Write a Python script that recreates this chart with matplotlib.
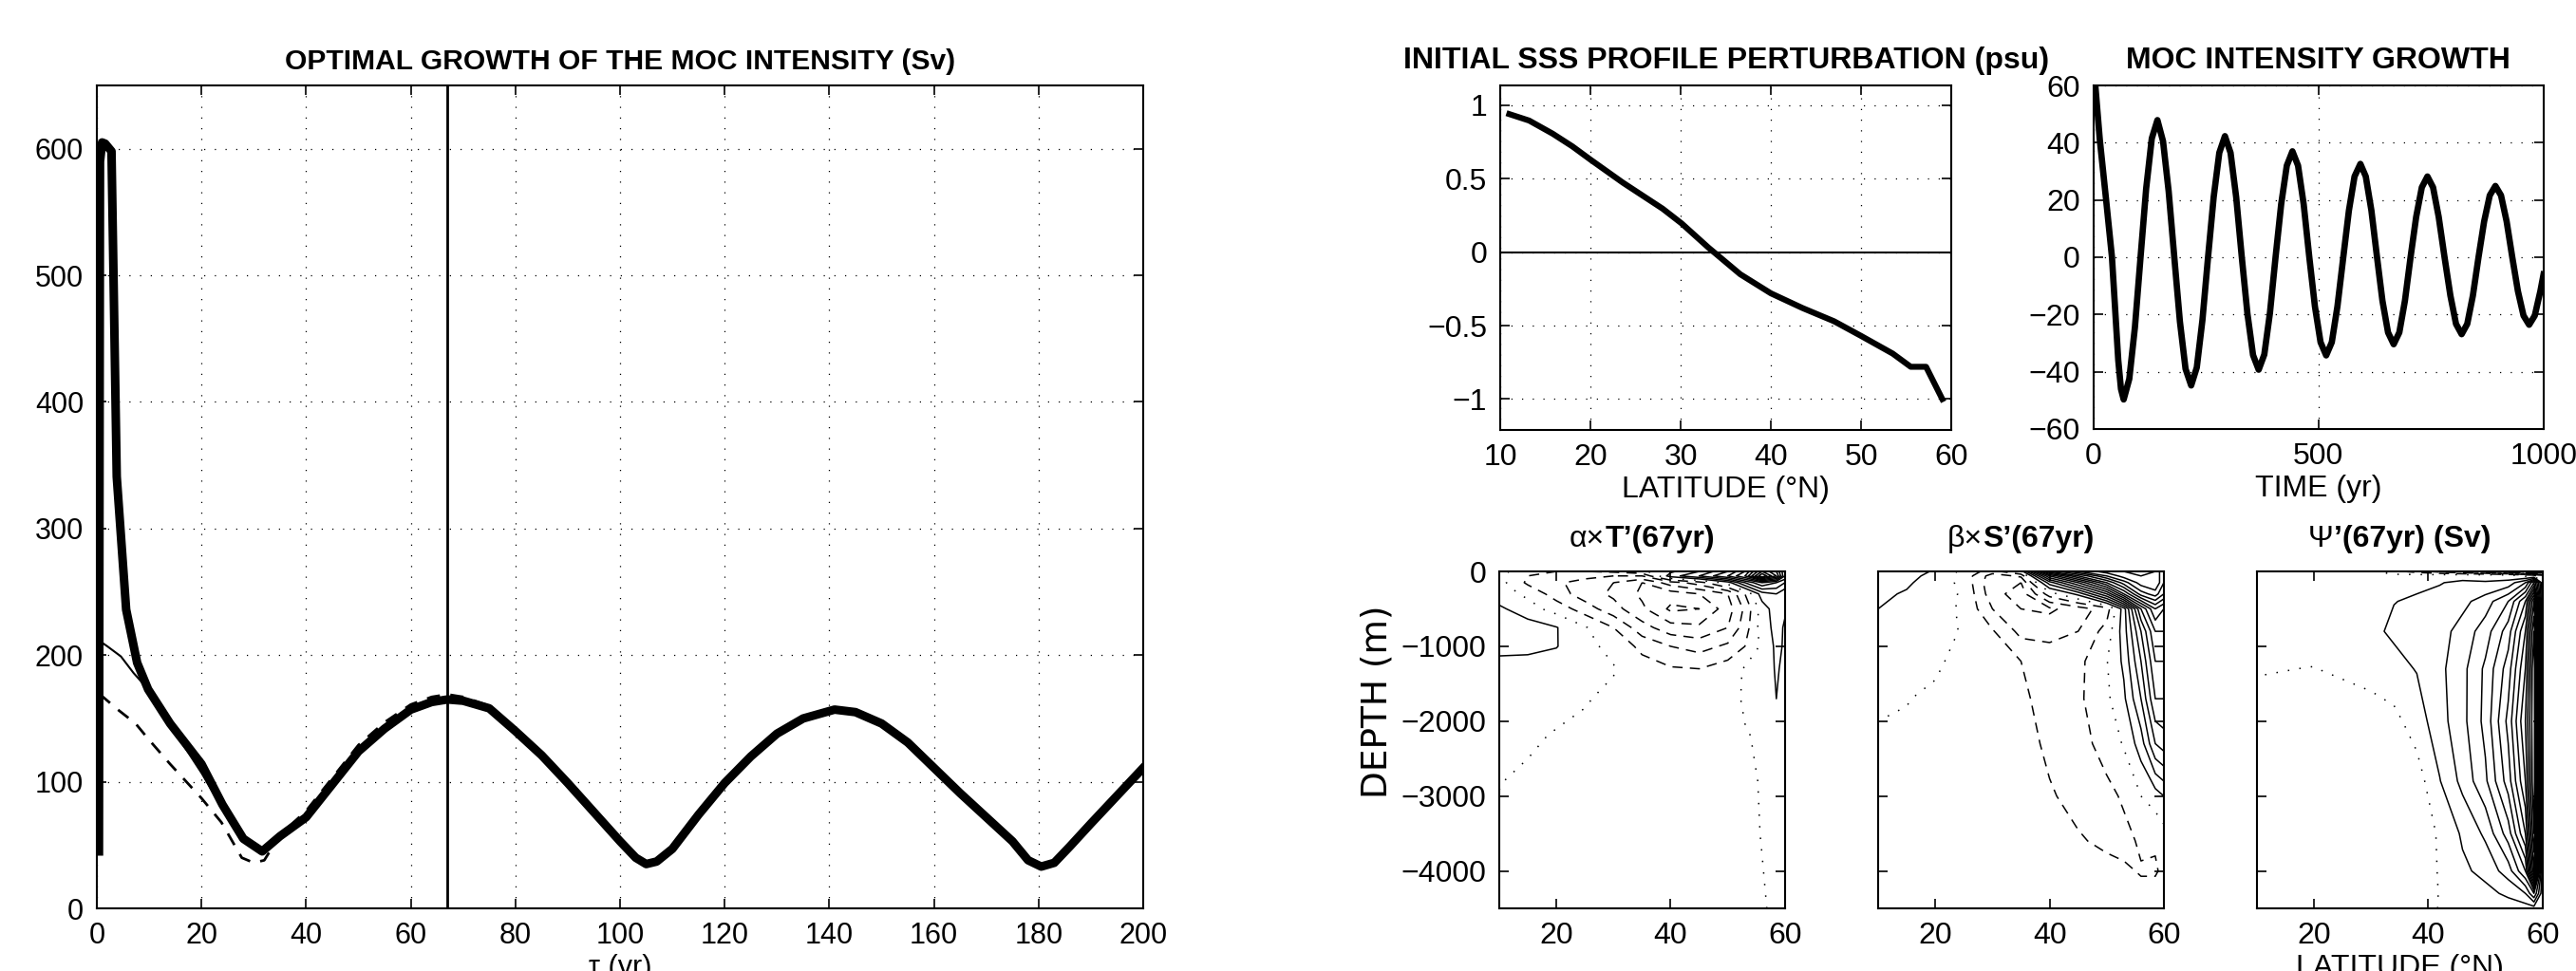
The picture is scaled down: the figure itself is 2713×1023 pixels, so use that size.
import numpy as np
import matplotlib.pyplot as plt
from matplotlib.offsetbox import TextArea, HPacker, AnchoredOffsetbox

plt.rcParams['font.family'] = ['Liberation Sans', 'DejaVu Sans']

# ---------------- donnees : croissance optimale (Sv) ----------------
tau_thick = [0.4, 0.6, 1.0, 1.6, 2.2, 2.8, 3.8, 5.6, 7.7, 9.8, 14, 20, 24, 28, 31.6, 35, 40, 45,
             50, 55, 60, 64, 67, 70, 75, 80, 85, 90, 95, 100, 103, 105, 107, 110, 115, 120, 125,
             130, 135, 141, 145, 150, 155, 160, 165, 170, 175, 178, 180.5, 183, 186, 190, 195, 200]
moc_thick = [45, 590, 605, 604, 601, 598, 341, 236, 194, 173, 146, 114, 82, 55, 45, 57, 72, 98,
             124, 142, 157, 163, 165, 164, 158, 140, 121, 99, 76, 53, 40, 35, 37, 47, 74, 99, 120,
             138, 150, 157, 155, 146, 131, 111, 91, 72, 53, 38, 33, 36, 49, 67, 89, 111]
tau_thin = [0.6, 2, 4.6, 7, 9.8, 14, 20, 24, 28, 31.6]
moc_thin = [211, 207, 199, 186, 173, 145, 107, 79, 55, 47]
tau_dash = [0.6, 4, 7.4, 10, 14, 20, 23.8, 27.7, 30, 32, 35, 40, 45, 50, 55, 60, 64, 67, 70, 75]
moc_dash = [169, 157, 146, 133, 114, 87, 68, 40, 36, 38, 58, 77, 103, 129, 147, 161, 167, 169, 167, 160]
tau_opt = 67

# ---------------- profil initial de SSS (psu) ----------------
lat_sss = [11, 12, 13.2, 15.8, 18, 20, 23.6, 28, 30.1, 33.1, 34, 36.6, 40, 43.5, 47, 50, 53.5,
           55.5, 57.2, 59]
sss = [0.94, 0.92, 0.896, 0.807, 0.72, 0.63, 0.473, 0.296, 0.196, 0.03, -0.016, -0.15, -0.28,
       -0.38, -0.47, -0.57, -0.69, -0.78, -0.78, -1.0]

# ---------------- croissance de l'intensite de la MOC ----------------
t_moc = [0, 4, 14, 28, 41, 48, 55, 61, 67, 79.5, 92, 104.5, 117, 129.5, 142, 154.5, 167, 179.5,
         192, 204.5, 217, 229.5, 242, 254.5, 267, 279.5, 292, 304.5, 317, 329.5, 342, 354.5, 367,
         379.5, 392, 404.5, 417, 429.5, 442, 454.5, 467, 479.5, 492, 504.5, 517, 529.5, 542, 555,
         567.5, 580, 593, 605, 617.5, 630, 642, 654.5, 667, 679.5, 692, 704.5, 717, 729.5, 742,
         754.5, 767, 780, 793, 805.5, 818, 830.5, 843, 855.5, 868, 880.5, 893, 905.5, 918, 930.5,
         943, 955.5, 968, 980.5, 993, 1000]
v_moc = [66, 60, 41, 20, 0, -18, -36, -46, -49.7, -42.5, -24.5, 0, 24, 41.5, 47.9, 40.5, 23, 0,
         -22.5, -39, -44.8, -38.5, -22, 0, 21, 36.5, 42.3, 36.5, 21, 0, -19.7, -34.2, -39.3,
         -34, -19.5, 0, 18.5, 32, 37.0, 32, 18.5, 0, -17.2, -29.7, -34.3, -29.7, -17.2, 0,
         16.3, 28.2, 32.6, 28.2, 16.3, 0, -15.2, -26.3, -30.4, -26.3, -15.2, 0, 14.1, 24.4, 28.2,
         24.4, 14.1, 0, -13.4, -23.3, -26.9, -23.3, -13.4, 0, 12.5, 21.6, 24.9, 21.6, 12.5, 0,
         -11.8, -20.4, -23.6, -20.4, -11.8, -6]

# ---------------- champs a 67 ans (une ligne = une latitude) ----------------
lat_grid = [10, 15, 20, 25, 30, 35, 40, 45, 50, 53, 56, 58.5, 60]
depth_T = [0, -60, -150, -300, -500, -750, -1000, -1300, -1700, -2200, -2800, -3500, -4500]
alphaT = [
    [0.3, 0.3, 0.4, 0.4, 1.2, 1.8, 1.3, 0.6, 0.4, 0.2, 0.02, -0.1, -0.1],
    [-0.6, -1.0, -1.2, -0.2, 0.4, 1.5, 1.3, 0.5, 0.3, 0.1, -0.1, -0.2, -0.2],
    [-1.0, -1.5, -1.8, -1.5, -0.4, 1.05, 1.05, 0.4, 0.2, -0.05, -0.2, -0.25, -0.25],
    [-1.0, -1.6, -2.5, -2.5, -1.5, 0.1, 0.2, 0.25, 0.05, -0.15, -0.25, -0.3, -0.3],
    [-0.8, -2.0, -3.0, -3.2, -2.6, -1.0, -0.2, 0.05, -0.15, -0.25, -0.3, -0.3, -0.3],
    [-0.2, -2.0, -4.0, -4.2, -3.8, -2.6, -1.3, -0.5, -0.3, -0.3, -0.3, -0.3, -0.3],
    [0.8, 1.5, -2.5, -4.5, -5.2, -3.6, -2.0, -0.9, -0.4, -0.3, -0.3, -0.3, -0.3],
    [2.0, 3.0, -1.5, -4.0, -5.0, -3.8, -2.4, -1.0, -0.4, -0.3, -0.3, -0.3, -0.3],
    [4.0, 5.0, 0.5, -3.0, -3.5, -3.0, -1.8, -0.5, -0.3, -0.25, -0.25, -0.25, -0.25],
    [6.0, 7.0, 3.0, -1.0, -1.8, -1.5, -1.0, 0.1, 0.1, -0.05, -0.15, -0.15, -0.15],
    [10.0, 12.0, 5.0, 1.5, 0.5, 0.5, 0.2, 0.4, 0.2, 0.1, 0.05, 0.02, -0.05],
    [8.0, 9.0, 4.0, 2.0, 1.5, 1.3, 1.2, 1.1, 1.0, 0.5, 0.3, 0.2, 0.1],
    [5.0, 5.0, 3.0, 1.2, 1.1, 0.9, 0.9, 0.8, 0.7, 0.4, 0.3, 0.2, 0.1],
]
depth_S = [0, -60, -150, -300, -500, -800, -1200, -1700, -2300, -3000, -3600, -4000, -4500]
betaS = [
    [1.6, 1.5, 1.35, 1.2, 1.0, 0.6, 0.35, 0.05, -0.05, -0.1, -0.1, -0.1, -0.1],
    [1.4, 1.3, 1.15, 0.9, 0.6, 0.35, 0.2, 0.02, -0.1, -0.15, -0.15, -0.1, -0.1],
    [0.9, 0.7, 0.5, 0.35, 0.25, 0.2, 0.1, -0.1, -0.2, -0.2, -0.2, -0.15, -0.1],
    [-0.3, -0.35, -0.25, -0.1, -0.1, -0.05, -0.2, -0.4, -0.4, -0.3, -0.3, -0.2, -0.2],
    [-1.5, -2.5, -2.8, -2.6, -2.0, -0.9, -0.6, -0.5, -0.5, -0.4, -0.3, -0.3, -0.3],
    [0.3, -1.8, -3.0, -3.5, -3.0, -2.3, -1.0, -0.8, -0.6, -0.6, -0.5, -0.4, -0.4],
    [10.0, 6.0, 2.5, -0.5, -3.2, -2.3, -1.5, -1.4, -1.2, -0.9, -0.7, -0.5, -0.5],
    [13.0, 10.0, 6.0, 1.3, -2.5, -2.0, -1.3, -1.2, -1.3, -1.3, -0.9, -0.6, -0.5],
    [14.5, 13.0, 10.0, 5.0, -1.5, -0.6, -0.05, -0.2, -0.7, -1.2, -1.2, -0.7, -0.6],
    [15.0, 14.5, 12.5, 9.0, 1.5, 1.5, 1.2, 0.8, 0.1, -0.9, -1.2, -0.9, -0.6],
    [15.5, 15.0, 14.5, 12.5, 7.0, 5.0, 4.0, 3.0, 1.5, 0.0, -0.9, -1.05, -0.7],
    [15.0, 15.0, 15.0, 13.5, 10.0, 8.0, 7.0, 6.0, 4.0, 0.5, -0.95, -1.05, -0.7],
    [13.0, 13.0, 13.0, 12.0, 9.0, 8.0, 7.0, 6.0, 4.5, 1.0, -0.6, -0.9, -0.6],
]
lat_psi = [10, 20, 30, 34, 38, 42, 46, 50, 54, 57, 58.5, 60]
depth_psi = [0, -50, -150, -400, -800, -1300, -2000, -2800, -3500, -4000, -4300, -4500]
psi = [
    [0.1, 0.12, 0.2, 0.3, 0.3, 0.05, -0.3, -0.5, -0.5, -0.4, -0.3, -0.2],
    [0.1, 0.15, 0.25, 0.35, 0.3, -0.02, -0.3, -0.5, -0.5, -0.4, -0.3, -0.2],
    [0.1, 0.2, 0.4, 0.6, 0.8, 0.3, -0.4, -0.6, -0.6, -0.5, -0.4, -0.3],
    [-0.6, 0.2, 0.6, 0.98, 1.15, 0.7, -0.3, -0.6, -0.6, -0.5, -0.4, -0.3],
    [-1.5, 0.3, 0.85, 1.1, 1.2, 1.05, 0.5, -0.5, -0.5, -0.4, -0.3, -0.2],
    [-2.5, 0.4, 0.95, 1.3, 1.6, 1.75, 1.6, 0.95, 0.1, 0.05, 0.02, 0.02],
    [-3.5, 0.5, 1.2, 1.7, 2.4, 2.7, 2.7, 2.3, 1.15, 0.8, 0.5, 0.3],
    [-4.5, 0.5, 1.1, 2.5, 3.5, 4.2, 4.3, 3.8, 2.2, 1.3, 0.7, 0.3],
    [-6.0, 0.2, 1.4, 4.0, 5.5, 6.5, 7.3, 6.5, 4.5, 2.5, 1.2, 0.5],
    [-9.0, -0.5, 3.0, 7.0, 9.0, 10.0, 11.0, 10.0, 8.0, 5.0, 2.0, 0.5],
    [-11.0, -1.0, 6.0, 12.0, 14.0, 15.0, 15.0, 15.0, 14.0, 12.0, 4.0, 0.5],
    [-11.0, -2.0, 0.3, 0.3, 0.3, 0.3, 0.3, 0.3, 0.3, 0.3, 0.3, 0.3],
]

FS_L = 22     # panneau de gauche
FS_R = 23     # panneaux de droite
DOT = (0, (1, 8))


def style(ax, fs):
    ax.tick_params(direction='in', top=True, right=True, length=7, width=1.2, labelsize=fs, pad=10)
    for s in ax.spines.values():
        s.set_linewidth(1.5)


def contour_panel(ax, lats, depths, rows, levels):
    z = np.array(rows).T
    ls = []
    for lv in levels:
        if lv < 0:
            ls.append((0, (7, 5)))
        elif lv == 0:
            ls.append((0, (1, 7)))
        else:
            ls.append('solid')
    ax.contour(lats, depths, z, levels=levels, colors='k', linewidths=1.1, linestyles=ls)
    ax.set_xlim(10, 60)
    ax.set_ylim(-4500, 0)
    ax.set_xticks([20, 40, 60])
    ax.set_yticks([0, -1000, -2000, -3000, -4000])
    style(ax, FS_R)


def mixed_title(ax, plain, bold):
    box = HPacker(children=[TextArea(plain, textprops=dict(size=FS_R)),
                            TextArea(bold, textprops=dict(size=FS_R, weight='bold'))],
                  align='baseline', pad=0, sep=0)
    ab = AnchoredOffsetbox(loc='lower center', child=box, pad=0, borderpad=0, frameon=False,
                           bbox_to_anchor=(0.5, 1.055), bbox_transform=ax.transAxes)
    ax.add_artist(ab)


fig = plt.figure(figsize=(27.13, 10.23), dpi=100)

# panneau gauche
ax = fig.add_axes([0.0376, 0.0645, 0.4062, 0.8475])
ax.plot(tau_dash, moc_dash, color='k', lw=2.0, ls=(0, (5, 4)))
ax.plot(tau_thin, moc_thin, color='k', lw=1.5)
ax.plot(tau_thick, moc_thick, color='k', lw=6.5, solid_joinstyle='round')
ax.axvline(tau_opt, color='k', lw=2.0)
ax.set_xlim(0, 200)
ax.set_ylim(0, 650)
ax.set_xticks(np.arange(0, 201, 20))
ax.set_yticks(np.arange(0, 601, 100))
ax.grid(True, color='k', lw=0.9, ls=DOT)
style(ax, FS_L)
ax.set_title('OPTIMAL GROWTH OF THE MOC INTENSITY (Sv)', fontsize=21.6, fontweight='bold', pad=12)
ax.set_xlabel('τ (yr)', fontsize=FS_L, labelpad=3)

# profil SSS
ax = fig.add_axes([0.5824, 0.5572, 0.1751, 0.3548])
ax.axhline(0, color='k', lw=1.5)
ax.plot(lat_sss, sss, color='k', lw=4.5)
ax.set_xlim(10, 60)
ax.set_ylim(-1.21, 1.135)
ax.set_xticks(np.arange(10, 61, 10))
ax.set_yticks([-1, -0.5, 0, 0.5, 1])
ax.set_yticklabels(['\u22121', '\u22120.5', '0', '0.5', '1'])
ax.grid(True, color='k', lw=0.9, ls=DOT)
style(ax, FS_R)
ax.set_title('INITIAL SSS PROFILE PERTURBATION (psu)', fontsize=FS_R, fontweight='bold', pad=13)
ax.set_xlabel('LATITUDE (\u00b0N)', fontsize=FS_R, labelpad=3)

# croissance MOC
ax = fig.add_axes([0.8127, 0.5582, 0.1747, 0.3538])
ax.plot(t_moc, v_moc, color='k', lw=4.8, solid_joinstyle='round')
ax.set_xlim(0, 1000)
ax.set_ylim(-60, 60)
ax.set_xticks([0, 500, 1000])
ax.set_yticks(np.arange(-60, 61, 20))
ax.grid(True, color='k', lw=0.9, ls=DOT)
style(ax, FS_R)
ax.set_title('MOC INTENSITY GROWTH', fontsize=FS_R, fontweight='bold', pad=13)
ax.set_xlabel('TIME (yr)', fontsize=FS_R, labelpad=3)

# coupes latitude-profondeur
ax = fig.add_axes([0.5820, 0.0645, 0.1109, 0.3470])
contour_panel(ax, lat_grid, depth_T, alphaT, np.arange(-5, 13))
mixed_title(ax, '\u03b1\u00d7', 'T\u2019(67yr)')

ax = fig.add_axes([0.7291, 0.0645, 0.1109, 0.3470])
contour_panel(ax, lat_grid, depth_S, betaS, np.arange(-4, 16))
ax.set_yticklabels([])
mixed_title(ax, '\u03b2\u00d7', 'S\u2019(67yr)')

ax = fig.add_axes([0.8761, 0.0645, 0.1109, 0.3470])
contour_panel(ax, lat_psi, depth_psi, psi, np.arange(-11, 16))
ax.set_yticklabels([])
mixed_title(ax, '\u03a8', '\u2019(67yr) (Sv)')
ax.set_xlabel('LATITUDE (\u00b0N)', fontsize=FS_R, labelpad=3)

fig.text(0.5345, 0.277, 'DEPTH (m)', rotation=90, fontsize=27, family='DejaVu Sans',
         ha='center', va='center')

fig.savefig('out.png', dpi=100)
